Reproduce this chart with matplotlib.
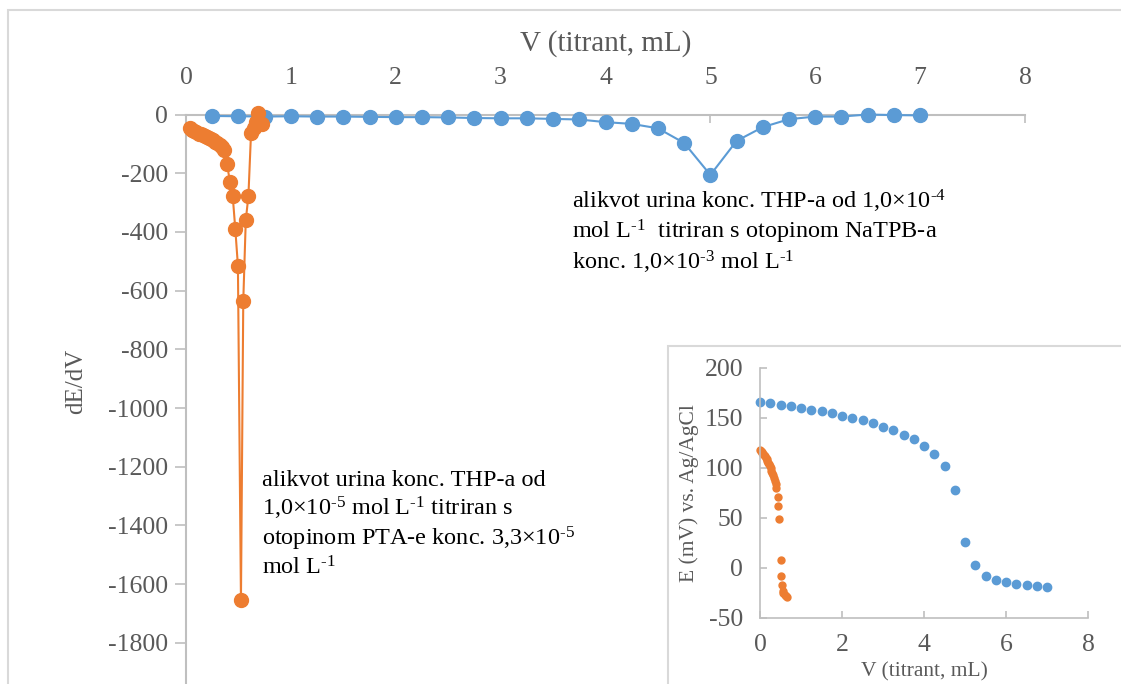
import matplotlib
matplotlib.use('Agg')
import matplotlib.pyplot as plt
from matplotlib.patches import Rectangle

plt.rcParams['font.family'] = 'Liberation Serif'
plt.rcParams['mathtext.fontset'] = 'custom'
plt.rcParams['mathtext.rm'] = 'Liberation Serif'
plt.rcParams['mathtext.it'] = 'Liberation Serif:italic'
plt.rcParams['axes.unicode_minus'] = False

blue = '#5B9BD5'
orange = '#ED7D31'
grey_txt = '#595959'
grey_line = '#D9D9D9'

# first derivative, dE/dV vs V
v_blue_d = [0.25, 0.5, 0.75, 1.0, 1.25, 1.5, 1.75, 2.0, 2.25, 2.5, 2.75, 3.0, 3.25, 3.5,
            3.75, 4.0, 4.25, 4.5, 4.75, 5.0, 5.25, 5.5, 5.75, 6.0, 6.25, 6.5, 6.75, 7.0]
dedv_blue = [-5, -6, -7, -6, -7, -7, -8, -9, -9, -10, -12, -13, -13, -15,
             -17, -26, -32, -47, -97, -206, -90, -43, -16, -7, -7, 0, -2, -3]

v_orange_d = [0.04, 0.06, 0.08, 0.10, 0.12, 0.14, 0.16, 0.18, 0.20, 0.22, 0.24, 0.26,
              0.28, 0.30, 0.32, 0.34, 0.36, 0.39, 0.42, 0.445, 0.47, 0.495, 0.524,
              0.546, 0.57, 0.595, 0.62, 0.65, 0.67, 0.69, 0.72]
dedv_orange = [-47, -52, -57, -61, -65, -68, -71, -74, -77, -80, -84, -88,
               -93, -98, -104, -110, -120, -167, -231, -276, -390, -515, -1655,
               -636, -360, -278, -64, -47, -25, 4, -32]

# titration curves, E vs V (inset)
v_blue = [0.0, 0.25, 0.5, 0.75, 1.0, 1.25, 1.5, 1.75, 2.0, 2.25, 2.5, 2.75, 3.0, 3.25,
          3.5, 3.75, 4.0, 4.25, 4.5, 4.75, 5.0, 5.25, 5.5, 5.75, 6.0, 6.25, 6.5, 6.75, 7.0]
e_blue = [166, 165, 163, 161.5, 160, 158, 156.5, 154.5, 152, 150, 147.5, 144.5, 141, 137.5,
          133, 129, 122, 114, 102, 78, 26, 3, -8, -12, -14.5, -16.5, -17, -18.5, -19.5]

v_orange = [0.0, 0.02, 0.04, 0.06, 0.08, 0.10, 0.12, 0.14, 0.16, 0.18, 0.20, 0.22, 0.24,
            0.26, 0.28, 0.30, 0.32, 0.34, 0.36, 0.38, 0.40, 0.43, 0.45, 0.47, 0.50, 0.52,
            0.53, 0.55, 0.57, 0.60, 0.63, 0.66]
e_orange = [118, 117, 116, 115, 114, 113, 111.5, 110, 108.5, 107, 105, 103.5, 101.5,
            99.5, 97, 95, 92.5, 90, 87, 84, 80, 71, 62, 49, 8, -8,
            -17, -23, -25, -27, -28, -29]

W, H = 1121, 684
fig = plt.figure(figsize=(W / 100, H / 100), dpi=100)

# outer chart border
fig.patches.append(Rectangle((8 / W, -0.1), 1.2, 1 - 10 / H + 0.1, transform=fig.transFigure,
                             fill=False, edgecolor=grey_line, lw=1.5, zorder=-1))

ax = fig.add_axes([186 / W, 0, (1025 - 186) / W, 1 - 114.5 / H])
ax.set_facecolor('none')
ax.plot(v_blue_d, dedv_blue, '-o', color=blue, lw=1.5, ms=10, clip_on=False, zorder=3)
ax.plot(v_orange_d, dedv_orange, '-o', color=orange, lw=1.5, ms=10, clip_on=False, zorder=4)
ax.set_xlim(0, 8)
ax.set_ylim(-(H - 114.5) / (58.7 / 200), 0)
ax.set_xticks(range(0, 9))
ax.set_yticks(range(-1800, 1, 200))
ax.xaxis.tick_top()
ax.xaxis.set_label_position('top')
ax.set_xlabel('V (titrant, mL)', fontsize=21, color=grey_txt, labelpad=12)
ax.set_ylabel('dE/dV', fontsize=18, color=grey_txt)
ax.yaxis.set_label_coords(-99 / (1025 - 186), 1 - (381 - 114.5) / (H - 114.5))
for s in ['right', 'bottom']:
    ax.spines[s].set_visible(False)
for s in ['top', 'left']:
    ax.spines[s].set_color('#BFBFBF')
    ax.spines[s].set_linewidth(1.5)
ax.tick_params(axis='x', direction='in', length=6, width=1.2, color='#BFBFBF',
               labelsize=18.5, labelcolor=grey_txt, pad=18)
ax.tick_params(axis='y', direction='out', length=8, width=1.2, color='#BFBFBF',
               labelsize=18.5, labelcolor=grey_txt, pad=5)

fig.text(572 / W, 1 - 188 / H,
         r'alikvot urina konc. THP-a od 1,0×10$^{\text{-4}}$' '\n'
         r'mol L$^{\text{-1}}$  titriran s otopinom NaTPB-a' '\n'
         r'konc. 1,0×10$^{\text{-3}}$ mol L$^{\text{-1}}$',
         fontsize=17.5, va='top', ha='left', linespacing=1.14, zorder=5)
fig.text(262 / W, 1 - 470 / H,
         r'alikvot urina konc. THP-a od' '\n'
         r'1,0×10$^{\text{-5}}$ mol L$^{\text{-1}}$ titriran s' '\n'
         r'otopinom PTA-e konc. 3,3×10$^{\text{-5}}$' '\n'
         r'mol L$^{\text{-1}}$',
         fontsize=17.5, va='top', ha='left', linespacing=1.17, zorder=5)

# inset frame
fig.patches.append(Rectangle((668 / W, -0.1), 1, 1 - 346 / H + 0.1, transform=fig.transFigure,
                             facecolor='white', edgecolor=grey_line, lw=1.5, zorder=1))

ins = fig.add_axes([760 / W, 1 - 617.7 / H, (1088 - 760) / W, (617.7 - 367.7) / H], zorder=2)
ins.set_facecolor('none')
ins.plot(v_blue, e_blue, 'o', color=blue, ms=6, clip_on=False)
ins.plot(v_orange, e_orange, 'o', color=orange, ms=5, clip_on=False)
ins.set_xlim(0, 8)
ins.set_ylim(-50, 200)
ins.set_xticks(range(0, 9, 2))
ins.set_yticks(range(-50, 201, 50))
ins.set_xlabel('V (titrant, mL)', fontsize=15.5, color=grey_txt, labelpad=4)
ins.set_ylabel('E (mV) vs. Ag/AgCl', fontsize=15.5, color=grey_txt, labelpad=4)
for s in ['right', 'top']:
    ins.spines[s].set_visible(False)
for s in ['bottom', 'left']:
    ins.spines[s].set_color('#BFBFBF')
    ins.spines[s].set_linewidth(1.2)
ins.tick_params(direction='in', length=5, width=1.2, color='#BFBFBF',
                labelsize=18.5, labelcolor=grey_txt, pad=12)

fig.savefig('out.png', dpi=100)
